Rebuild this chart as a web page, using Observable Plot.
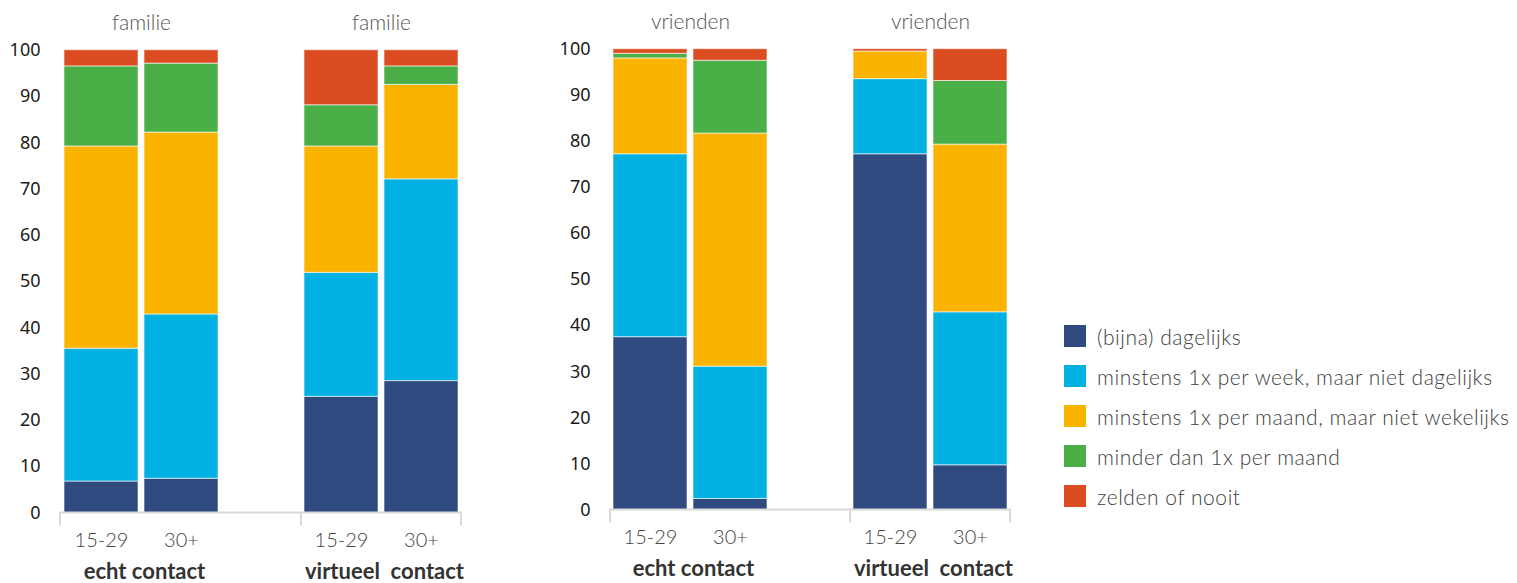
<!DOCTYPE html>
<html><head><meta charset="utf-8">
<script src="https://cdn.jsdelivr.net/npm/d3@7"></script>
<script src="https://cdn.jsdelivr.net/npm/@observablehq/plot@0.6"></script>
<style>
body{margin:0;background:#fff;}
#wrap{position:relative;width:1517px;height:583px;overflow:hidden;font-family:Lato,sans-serif;background:#fff;}
.panel{position:absolute;top:0;}
#legend{position:absolute;left:1064px;top:325px;}
.item{display:flex;align-items:center;height:22px;margin-bottom:18px;font-size:21px;letter-spacing:0.55px;color:#404040;font-weight:300;white-space:nowrap;}
.sw{width:22px;height:22px;margin-right:11px;flex:none;}
</style></head><body><div id="wrap"></div>
<script>
// ---- data ----
const categories = [
  "(bijna) dagelijks",
  "minstens 1x per week, maar niet dagelijks",
  "minstens 1x per maand, maar niet wekelijks",
  "minder dan 1x per maand",
  "zelden of nooit"
];
const colors = ["#2e4a7e", "#00b1e1", "#fab400", "#4aaf46", "#db4c20"];
const ageGroups = ["15-29", "30+"];
const contactTypes = ["echt contact", "virtueel  contact"];
const panelTitles = ["familie", "vrienden"];
const yTicks = [0, 10, 20, 30, 40, 50, 60, 70, 80, 90, 100];
// per bar: echt 15-29, echt 30+, virtueel 15-29, virtueel 30+ ; values in category order
const familieValues = [
  [6.8, 28.7, 43.7, 17.3, 3.5],
  [7.4, 35.5, 39.3, 14.9, 2.9],
  [25.1, 26.8, 27.3, 8.9, 11.9],
  [28.5, 43.6, 20.4, 4.0, 3.5]
];
const vriendenValues = [
  [37.5, 39.7, 20.8, 1.0, 1.0],
  [2.4, 28.7, 50.6, 15.8, 2.5],
  [77.2, 16.3, 6.0, 0, 0.5],
  [9.7, 33.2, 36.4, 13.8, 6.9]
];

const slots = [
  contactTypes[0] + "|" + ageGroups[0],
  contactTypes[0] + "|" + ageGroups[1],
  "gap",
  contactTypes[1] + "|" + ageGroups[0],
  contactTypes[1] + "|" + ageGroups[1]
];

function makeRows(values) {
  const rows = [];
  contactTypes.forEach((c, ci) => ageGroups.forEach((a, ai) => {
    const v = values[ci * 2 + ai];
    categories.forEach((cat, k) => rows.push({slot: c + "|" + a, category: cat, value: v[k]}));
  }));
  return rows;
}

function groupAxis(index, scales, values, dims) {
  const x = scales.x;
  const bw = x.bandwidth ? x.bandwidth() : 0;
  const x0 = dims.marginLeft, x1 = dims.width - dims.marginRight;
  const y0 = dims.height - dims.marginBottom;
  const mid = (x("gap") + bw + x(slots[3])) / 2;
  const g = d3.create("svg:g").attr("stroke", "#d9d9d9").attr("stroke-width", 2);
  g.append("line").attr("x1", x0 - 1).attr("x2", x1 + 1).attr("y1", y0).attr("y2", y0);
  [x0, mid, x1].forEach(px => g.append("line").attr("x1", px).attr("x2", px).attr("y1", y0).attr("y2", y0 + 13));
  return g.node();
}

function panel(values, title, opts) {
  const rows = makeRows(values);
  const groupLabels = contactTypes.map(c => ({slot: c + "|" + ageGroups[0], label: c}));
  const titles = contactTypes.map(c => ({slot: c + "|" + ageGroups[0], label: title}));
  return Plot.plot({
    width: 480,
    height: 583,
    marginLeft: 60,
    marginRight: opts.marginRight,
    marginTop: opts.marginTop,
    marginBottom: opts.marginBottom,
    x: {domain: slots, paddingInner: 0.078, paddingOuter: 0.0374, axis: null},
    y: {domain: [0, 100], axis: null},
    color: {domain: categories, range: colors},
    style: {fontFamily: "Lato, sans-serif", background: "white", overflow: "visible"},
    marks: [
      Plot.barY(rows, {x: "slot", y: "value", fill: "category", stroke: "white", strokeWidth: 1, strokeOpacity: 0.6}),
      groupAxis,
      Plot.axisY(yTicks, {tickSize: 0, tickPadding: 20, fontSize: 18, fill: "#1a1a1a", fontFamily: "Noto Sans", label: null}),
      Plot.axisX(slots.filter(s => s !== "gap"), {tickSize: 0, tickPadding: 20, tickFormat: s => s.split("|")[1], fontSize: 20, fontWeight: 300, fill: "#444", label: null, style: {letterSpacing: "0.6px"}}),
      Plot.text(titles, {x: "slot", text: "label", dx: 40, frameAnchor: "top", dy: -27, lineAnchor: "middle", fontSize: 21, fontWeight: 300, fill: "#555", style: {letterSpacing: "0.6px"}}),
      Plot.text(groupLabels, {x: "slot", text: "label", dx: 43, frameAnchor: "bottom", dy: 59, lineAnchor: "middle", fontSize: 22, fontWeight: "bold", fill: "#333", style: {letterSpacing: "0.9px"}})
    ]
  });
}

const wrap = document.getElementById("wrap");
const p1 = panel(familieValues, panelTitles[0], {marginRight: 19, marginTop: 49.7, marginBottom: 70.5});
const d1 = document.createElement("div"); d1.className = "panel"; d1.style.left = "0px"; d1.appendChild(p1); wrap.appendChild(d1);
const p2 = panel(vriendenValues, panelTitles[1], {marginRight: 20, marginTop: 48.7, marginBottom: 73.5});
const d2 = document.createElement("div"); d2.className = "panel"; d2.style.left = "550px"; d2.appendChild(p2); wrap.appendChild(d2);

const legend = document.createElement("div"); legend.id = "legend";
categories.forEach((c, i) => {
  const it = document.createElement("div"); it.className = "item";
  const sw = document.createElement("div"); sw.className = "sw"; sw.style.background = colors[i];
  const tx = document.createElement("span"); tx.textContent = c;
  it.appendChild(sw); it.appendChild(tx); legend.appendChild(it);
});
wrap.appendChild(legend);
</script></body></html>
